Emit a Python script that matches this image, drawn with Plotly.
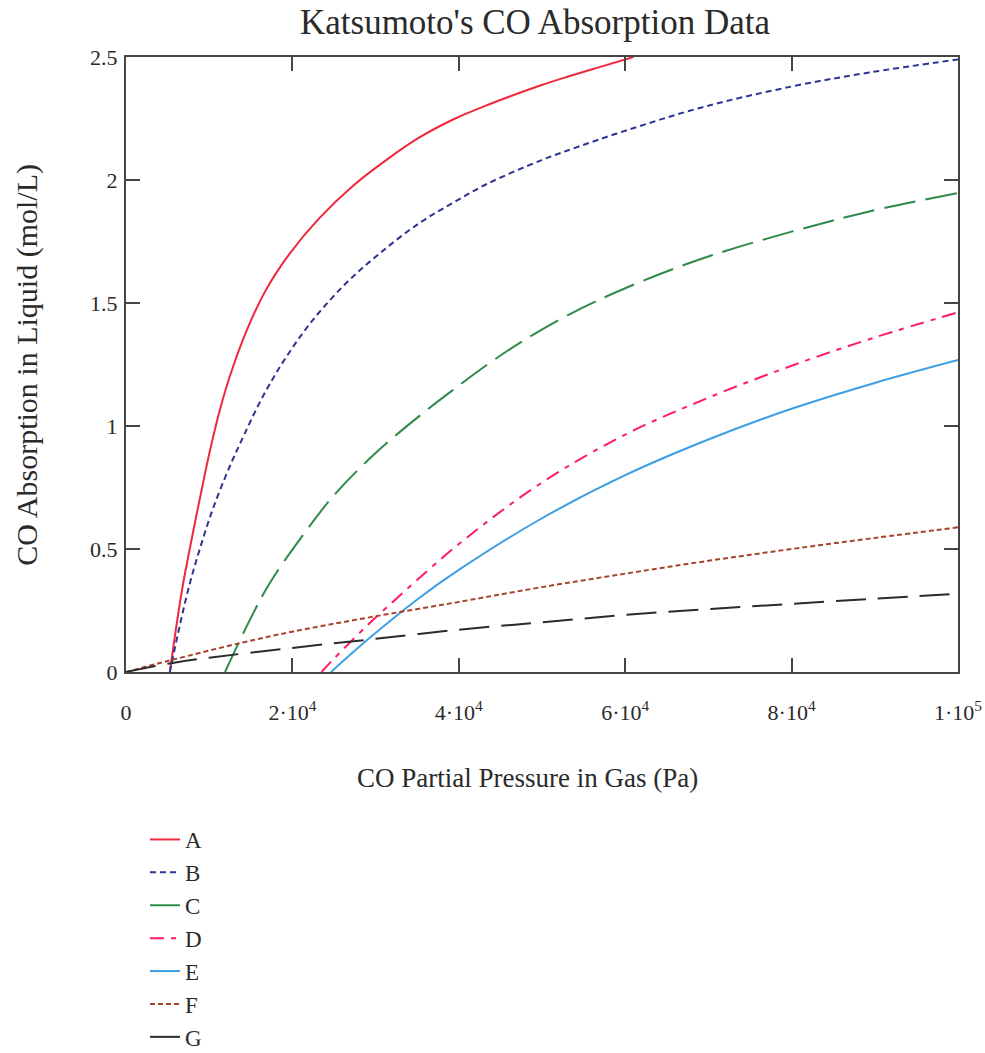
import plotly.graph_objects as go

# CO partial pressure (Pa) and absorbed CO (mol/L) for each case
a_p = [5270, 6070, 6870, 8070, 9270, 10060, 11200, 12460, 14460, 16850, 19650, 23240,
       27230, 31230, 35220, 39440, 43450, 49880, 53070, 57000, 61000]
a_c = [0.0, 0.19, 0.36, 0.57, 0.77, 0.895, 1.055, 1.20, 1.385, 1.555, 1.70, 1.845,
       1.975, 2.08, 2.172, 2.248, 2.305, 2.385, 2.42, 2.46, 2.50]

b_p = [5270, 6470, 7670, 8870, 10460, 12460, 13660, 16450, 19250, 22440, 26440, 30430,
       35220, 39440, 43450, 49880, 53070, 60000, 69190, 80000, 89340, 100000]
b_c = [0.0, 0.19, 0.36, 0.50, 0.665, 0.835, 0.925, 1.12, 1.28, 1.43, 1.58, 1.70,
       1.824, 1.91, 1.985, 2.08, 2.12, 2.20, 2.295, 2.38, 2.437, 2.49]

c_p = [11900, 14860, 17250, 20850, 25040, 30000, 35420, 39440, 43450, 47430, 53070,
       60000, 69190, 80000, 89340, 100000]
c_c = [0.0, 0.21, 0.36, 0.537, 0.72, 0.89, 1.045, 1.15, 1.25, 1.34, 1.45,
       1.56, 1.68, 1.79, 1.872, 1.947]

d_p = [23500, 24840, 28830, 30476, 40000, 50000, 60000, 70000, 80000, 90000, 100000]
d_c = [0.0, 0.049, 0.184, 0.236, 0.52, 0.77, 0.965, 1.115, 1.245, 1.36, 1.462]

e_p = [24640, 29230, 35000, 40000, 50000, 60000, 70000, 80000, 90000, 100000]
e_c = [0.0, 0.137, 0.295, 0.415, 0.625, 0.80, 0.945, 1.07, 1.175, 1.268]

f_p = [0, 5270, 13660, 20000, 29230, 40000, 50000, 60000, 70000, 80000, 90000, 100000]
f_c = [0.0, 0.047, 0.117, 0.164, 0.222, 0.285, 0.345, 0.40, 0.452, 0.50, 0.545, 0.588]

g_p = [0, 5270, 10000, 20000, 29230, 40000, 50000, 60000, 70000, 80000, 90000, 100000]
g_c = [0.0, 0.035, 0.058, 0.098, 0.132, 0.172, 0.202, 0.232, 0.256, 0.277, 0.298, 0.318]

names = ["A", "B", "C", "D", "E", "F", "G"]
x_ticks = [0, 20000, 40000, 60000, 80000, 100000]
x_tick_text = ["0", "2·10<sup>4</sup>", "4·10<sup>4</sup>", "6·10<sup>4</sup>",
               "8·10<sup>4</sup>", "1·10<sup>5</sup>"]
y_ticks = [0, 0.5, 1, 1.5, 2, 2.5]
y_tick_text = ["0", "0.5", "1", "1.5", "2", "2.5"]

series = [(a_p, a_c), (b_p, b_c), (c_p, c_c), (d_p, d_c), (e_p, e_c), (f_p, f_c), (g_p, g_c)]
styles = [
    dict(color="#f0283c", dash="solid"),
    dict(color="#2d3592", dash="6px,4px"),
    dict(color="#2f8a4a", dash="32px,10px"),
    dict(color="#ff1a6e", dash="14px,7px,5px,7px"),
    dict(color="#3d9fe3", dash="solid"),
    dict(color="#a8422e", dash="5px,3px"),
    dict(color="#2b2b2b", dash="30px,12px"),
]

FONT = "Liberation Serif, Times New Roman, serif"
AXIS_COLOR = "#454545"
TEXT_COLOR = "#2a2a2a"

fig = go.Figure()
for name, (px, cy), st in zip(names, series, styles):
    fig.add_trace(go.Scatter(
        x=px, y=cy, mode="lines", name=name, legendgroup=name,
        line=dict(color=st["color"], dash=st["dash"], width=2,
                  shape="spline", smoothing=1.0),
    ))

axis_common = dict(
    showline=True, linecolor=AXIS_COLOR, linewidth=2, mirror="ticks",
    ticks="inside", ticklen=14, tickwidth=2, tickcolor=AXIS_COLOR,
    showgrid=False, zeroline=False, automargin=False,
    tickfont=dict(family=FONT, size=22, color=TEXT_COLOR),
)

fig.update_xaxes(range=[0, 100000], tickvals=x_ticks, ticktext=x_tick_text,
                 ticklabelstandoff=20, **axis_common)
fig.update_yaxes(range=[0, 2.5], tickvals=y_ticks, ticktext=y_tick_text,
                 ticklabelstandoff=2, **axis_common)

fig.update_layout(
    width=985, height=1053,
    margin=dict(l=126, r=27, t=57, b=381, autoexpand=False),
    paper_bgcolor="white", plot_bgcolor="white",
    font=dict(family=FONT, color=TEXT_COLOR),
    title=dict(text="Katsumoto's CO Absorption Data", x=0.4916, xref="paper",
               xanchor="center", y=1 - 22 / 1053, yref="container", yanchor="middle",
               font=dict(family=FONT, size=35, color=TEXT_COLOR)),
    showlegend=True,
    legend=dict(x=0.0228, xanchor="left", xref="paper",
                y=1 - 818 / 1053, yanchor="top", yref="container",
                font=dict(family=FONT, size=23, color=TEXT_COLOR),
                tracegroupgap=0, bgcolor="rgba(0,0,0,0)"),
    annotations=[
        dict(text="CO Partial Pressure in Gas (Pa)", xref="paper", yref="paper",
             x=0.482, y=-0.172, xanchor="center", yanchor="middle", showarrow=False,
             font=dict(family=FONT, size=27, color=TEXT_COLOR)),
        dict(text="CO Absorption in Liquid (mol/L)", xref="paper", yref="paper",
             x=-0.12, y=0.5, xanchor="center", yanchor="middle", showarrow=False,
             textangle=-90, font=dict(family=FONT, size=30, color=TEXT_COLOR)),
    ],
)

fig.write_html("out.html")
